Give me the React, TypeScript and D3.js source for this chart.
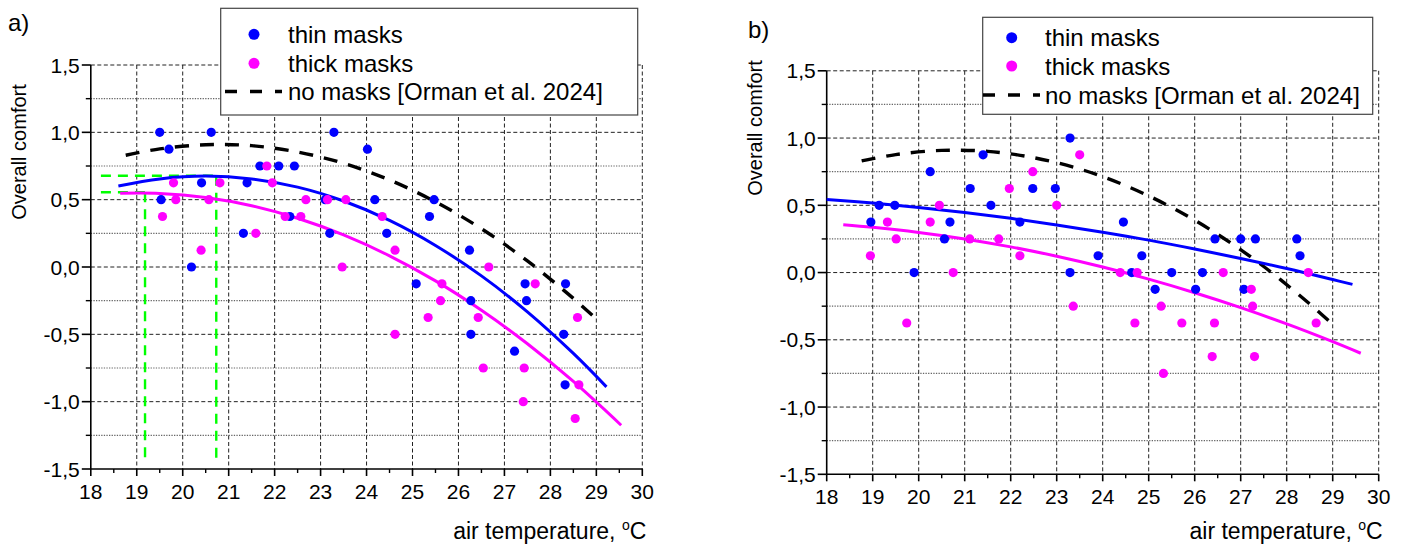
import React from 'react';
import * as d3 from 'd3';

// ---------- data ----------
const xTickValues = [18, 19, 20, 21, 22, 23, 24, 25, 26, 27, 28, 29, 30];
const xTickLabels = ['18', '19', '20', '21', '22', '23', '24', '25', '26', '27', '28', '29', '30'];
const yTickValues = [-1.5, -1.0, -0.5, 0.0, 0.5, 1.0, 1.5];
const yTickLabels = ['-1,5', '-1,0', '-0,5', '0,0', '0,5', '1,0', '1,5'];

const legendLabels = ['thin masks', 'thick masks', 'no masks [Orman et al. 2024]'];

// panel a) scatter
const aThinX = [19.5, 20.62, 19.7, 21.68, 22.09, 22.43, 20.41, 21.4, 19.53, 21.32, 20.19, 23.29, 24.02, 23.1, 24.18, 22.33, 25.37, 25.47, 23.2, 24.44, 25.08, 26.24, 26.27, 26.27, 27.45, 27.48, 28.33, 28.29, 27.22, 28.32];
const aThinY = [1.0, 1.0, 0.875, 0.75, 0.75, 0.75, 0.625, 0.625, 0.5, 0.25, 0.0, 1.0, 0.875, 0.5, 0.5, 0.375, 0.375, 0.5, 0.25, 0.25, -0.125, 0.125, -0.25, -0.5, -0.125, -0.25, -0.125, -0.5, -0.625, -0.875];
const aThickX = [21.83, 19.8, 20.81, 21.95, 19.85, 20.57, 19.56, 21.59, 20.4, 22.68, 23.15, 23.55, 22.23, 22.57, 24.34, 24.62, 23.47, 25.64, 25.61, 26.66, 26.43, 27.67, 28.59, 26.54, 27.43, 27.41, 28.62, 28.54, 24.62, 25.34];
const aThickY = [0.75, 0.625, 0.625, 0.625, 0.5, 0.5, 0.375, 0.25, 0.125, 0.5, 0.5, 0.5, 0.375, 0.375, 0.375, 0.125, 0.0, -0.125, -0.25, 0.0, -0.375, -0.125, -0.375, -0.75, -0.75, -1.0, -0.875, -1.125, -0.5, -0.375];

// panel a) fitted curves (read along the drawn lines)
const aFitThinX = [18.6, 19.5, 20.5, 21.5, 22.5, 23.5, 24.5, 25.5, 26.5, 27.5, 28.5, 29.22];
const aFitThinY = [0.601, 0.654, 0.675, 0.654, 0.593, 0.49, 0.346, 0.16, -0.066, -0.333, -0.642, -0.89];
const aFitThickX = [18.64, 19.5, 20.5, 21.5, 22.5, 23.5, 24.5, 25.5, 26.5, 27.5, 28.5, 29.54];
const aFitThickY = [0.547, 0.546, 0.516, 0.455, 0.362, 0.238, 0.083, -0.103, -0.321, -0.57, -0.85, -1.175];

// Orman et al. 2024 (no masks)
const ormanX = [18.76, 19.5, 20.5, 21.5, 22.5, 23.5, 24.5, 25.5, 26.5, 27.5, 28.5, 29.0];
const ormanY = [0.83, 0.877, 0.908, 0.901, 0.854, 0.77, 0.646, 0.484, 0.284, 0.045, -0.233, -0.386];

// green guide lines in panel a)
const greenX = [19.18, 20.73];
const greenY = [0.555, 0.678];
const greenStartX = 18.22;
const greenEndY = -1.455;

// panel b) scatter
const bThinX = [21.4, 20.25, 21.12, 19.14, 19.48, 21.57, 18.96, 20.68, 22.2, 20.56, 19.9, 23.29, 22.48, 22.97, 24.45, 23.9, 24.85, 23.29, 24.63, 25.5, 26.17, 25.14, 26.02, 26.44, 27.0, 27.32, 28.22, 28.29, 27.07];
const bThinY = [0.875, 0.75, 0.625, 0.5, 0.5, 0.5, 0.375, 0.375, 0.375, 0.25, 0.0, 1.0, 0.625, 0.625, 0.375, 0.125, 0.125, 0.0, 0.0, 0.0, 0.0, -0.125, -0.125, 0.25, 0.25, 0.25, 0.25, 0.125, -0.125];
const bThickX = [21.97, 20.45, 19.32, 20.25, 19.51, 21.11, 21.74, 18.95, 20.75, 19.74, 22.2, 23.5, 22.48, 23.0, 24.38, 24.75, 23.36, 25.27, 24.7, 25.72, 25.32, 26.38, 26.62, 28.47, 27.23, 27.26, 26.43, 28.64, 27.3];
const bThickY = [0.625, 0.5, 0.375, 0.375, 0.25, 0.25, 0.25, 0.125, 0.0, -0.375, 0.125, 0.875, 0.75, 0.5, 0.0, 0.0, -0.25, -0.25, -0.375, -0.375, -0.75, -0.625, 0.0, 0.0, -0.125, -0.25, -0.375, -0.375, -0.625];

// panel b) fitted curves
const bFitThinX = [18, 19, 20, 21, 22, 23, 24, 25, 26, 27, 28, 29, 29.43];
const bFitThinY = [0.544, 0.517, 0.484, 0.446, 0.403, 0.354, 0.3, 0.241, 0.175, 0.105, 0.03, -0.052, -0.088];
const bFitThickX = [18.36, 19, 20, 21, 22, 23, 24, 25, 26, 27, 28, 29, 29.61];
const bFitThickY = [0.355, 0.336, 0.298, 0.25, 0.191, 0.121, 0.041, -0.049, -0.15, -0.261, -0.382, -0.514, -0.6];

// ---------- styles ----------
const FONT = "'Liberation Sans', Arial, Helvetica, sans-serif";
const BLUE = '#0000ff';
const PINK = '#ff00ff';
const GREEN = '#00ff00';
const DOT_R = 4.6;

type LegendLayout = {
  box: [number, number, number, number];
  dotX: number;
  rows: [number, number, number];
  textX: number;
  dash: [number, number];
};

type PanelProps = {
  xRange: [number, number];
  yRange: [number, number];
  thinX: number[]; thinY: number[];
  thickX: number[]; thickY: number[];
  fitThinX: number[]; fitThinY: number[];
  fitThickX: number[]; fitThickY: number[];
  label: string; labelPos: [number, number];
  yTitlePos: [number, number];
  legend: LegendLayout;
  green?: boolean;
};

function zip(xs: number[], ys: number[]): [number, number][] {
  return xs.map((v, i) => [v, ys[i]]);
}

function Panel(p: PanelProps) {
  const x = d3.scaleLinear().domain([18, 30]).range(p.xRange);
  const y = d3.scaleLinear().domain([-1.5, 1.5]).range(p.yRange);
  const line = d3.line<[number, number]>().x(d => x(d[0])).y(d => y(d[1])).curve(d3.curveCatmullRom);

  const x0 = x(18), x1 = x(30), yb = y(-1.5), yt = y(1.5);
  const hGrid = d3.range(-5, 7).map(k => k * 0.25);
  const yMinor = d3.range(-5, 6, 2).map(k => k * 0.25);
  const xMinor = d3.range(18.5, 30, 1);

  const L = p.legend;
  return (
    <g>
      {/* grid */}
      {hGrid.map((v, i) => {
        const major = Math.abs((v * 2) - Math.round(v * 2)) < 1e-6;
        return (
          <line key={'h' + i} x1={x0} x2={x1} y1={y(v)} y2={y(v)}
            stroke={major ? '#222' : '#666'} strokeWidth={major ? 1 : 1.2}
            strokeDasharray={major ? '4,2.5' : '1.3,1.3'} />
        );
      })}
      {xTickValues.slice(1).map(v => (
        <line key={'v' + v} x1={x(v)} x2={x(v)} y1={yt} y2={yb} stroke="#222" strokeWidth={1} strokeDasharray="4,2.5" />
      ))}

      {/* axes */}
      <line x1={x0} x2={x0} y1={yt} y2={yb} stroke="#000" strokeWidth={1.6} />
      <line x1={x0} x2={x1} y1={yb} y2={yb} stroke="#000" strokeWidth={1.6} />
      {yTickValues.map((v, i) => (
        <g key={'yt' + i}>
          <line x1={x0 - 9} x2={x0} y1={y(v)} y2={y(v)} stroke="#000" strokeWidth={1.6} />
          <text x={x0 - 11} y={y(v)} dy="0.36em" textAnchor="end" fontSize={21} fontFamily={FONT}>{yTickLabels[i]}</text>
        </g>
      ))}
      {yMinor.map((v, i) => (
        <line key={'ym' + i} x1={x0 - 5} x2={x0} y1={y(v)} y2={y(v)} stroke="#000" strokeWidth={1.4} />
      ))}
      {xTickValues.map((v, i) => (
        <g key={'xt' + i}>
          <line x1={x(v)} x2={x(v)} y1={yb} y2={yb + 7} stroke="#000" strokeWidth={1.6} />
          <text x={x(v)} y={yb + 30} textAnchor="middle" fontSize={21} fontFamily={FONT}>{xTickLabels[i]}</text>
        </g>
      ))}
      {xMinor.map((v, i) => (
        <line key={'xm' + i} x1={x(v)} x2={x(v)} y1={yb} y2={yb + 4} stroke="#000" strokeWidth={1.4} />
      ))}

      {/* titles */}
      <text x={x1 + 4} y={538.5} textAnchor="end" fontSize={23} fontFamily={FONT}>
        air temperature, <tspan fontSize={14} dy={-9}>o</tspan><tspan dy={9}>C</tspan>
      </text>
      <text transform={`translate(${p.yTitlePos[0]},${p.yTitlePos[1]}) rotate(-90)`} textAnchor="middle" fontSize={20} fontFamily={FONT}>Overall comfort</text>
      <text x={p.labelPos[0]} y={p.labelPos[1]} fontSize={24} fontFamily={FONT}>{p.label}</text>

      {/* green guides */}
      {p.green && greenX.map((gx, i) => (
        <g key={'g' + i}>
          <line x1={x(greenStartX)} x2={x(gx)} y1={y(greenY[i])} y2={y(greenY[i])} stroke={GREEN} strokeWidth={2.4} strokeDasharray="10,7" />
          <line x1={x(gx)} x2={x(gx)} y1={y(greenY[i])} y2={y(greenEndY)} stroke={GREEN} strokeWidth={2.4} strokeDasharray="10,7" />
        </g>
      ))}

      {/* fitted curves */}
      <path d={line(zip(ormanX, ormanY)) || ''} fill="none" stroke="#000" strokeWidth={3.4} strokeDasharray="14,11" />
      <path d={line(zip(p.fitThinX, p.fitThinY)) || ''} fill="none" stroke={BLUE} strokeWidth={3} />
      <path d={line(zip(p.fitThickX, p.fitThickY)) || ''} fill="none" stroke={PINK} strokeWidth={3} />

      {/* points */}
      {p.thinX.map((v, i) => (
        <circle key={'tn' + i} cx={x(v)} cy={y(p.thinY[i])} r={DOT_R} fill={BLUE} />
      ))}
      {p.thickX.map((v, i) => (
        <circle key={'tk' + i} cx={x(v)} cy={y(p.thickY[i])} r={DOT_R} fill={PINK} />
      ))}

      {/* legend */}
      <rect x={L.box[0]} y={L.box[1]} width={L.box[2]} height={L.box[3]} fill="#fff" stroke="#444" strokeWidth={1.2} />
      <circle cx={L.dotX} cy={L.rows[0]} r={5.5} fill={BLUE} />
      <circle cx={L.dotX} cy={L.rows[1]} r={5.5} fill={PINK} />
      <line x1={L.dash[0]} x2={L.dash[1]} y1={L.rows[2]} y2={L.rows[2]} stroke="#000" strokeWidth={3.4} strokeDasharray="12,13" />
      {legendLabels.map((t, i) => (
        <text key={'lg' + i} x={L.textX} y={L.rows[i] + 8.5} fontSize={24} fontFamily={FONT}>{t}</text>
      ))}
    </g>
  );
}

export default function App() {
  return (
    <svg width={1409} height={552} style={{ position: 'absolute', left: 0, top: 0, background: '#fff' }}>
      <rect x={0} y={0} width={1409} height={552} fill="#fff" />
      <Panel
        xRange={[90.8, 642.3]} yRange={[469, 65]}
        thinX={aThinX} thinY={aThinY} thickX={aThickX} thickY={aThickY}
        fitThinX={aFitThinX} fitThinY={aFitThinY} fitThickX={aFitThickX} fitThickY={aFitThickY}
        label="a)" labelPos={[8, 31]} yTitlePos={[26, 152]}
        legend={{ box: [220.7, 8.3, 417, 106.7], dotX: 254, rows: [34.3, 63.3, 91.5], textX: 288, dash: [225, 282] }}
        green
      />
      <Panel
        xRange={[826.7, 1378.7]} yRange={[474.3, 70.8]}
        thinX={bThinX} thinY={bThinY} thickX={bThickX} thickY={bThickY}
        fitThinX={bFitThinX} fitThinY={bFitThinY} fitThickX={bFitThickX} fitThickY={bFitThickY}
        label="b)" labelPos={[748, 38]} yTitlePos={[762, 128]}
        legend={{ box: [982.7, 17.3, 390, 97], dotX: 1011.7, rows: [37.7, 66, 95], textX: 1045, dash: [983, 1040] }}
      />
    </svg>
  );
}
